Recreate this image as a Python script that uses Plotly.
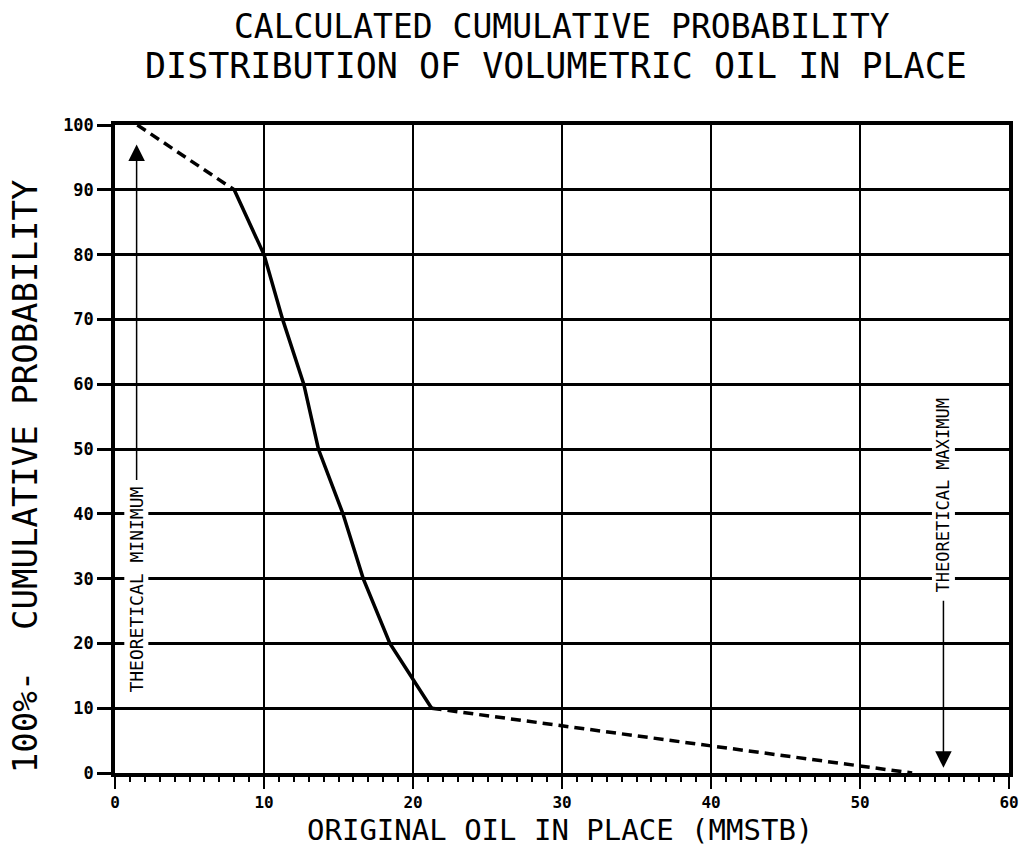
import plotly.graph_objects as go

# ---- data ----
solid_x = [8.0, 10.0, 11.25, 12.67, 13.65, 15.3, 16.66, 18.45, 21.25]
solid_y = [90, 80, 70, 60, 50, 40, 30, 20, 10]
upper_tail_x = [1.5, 8.0]
upper_tail_y = [100, 90]
lower_tail_x = [21.25, 53.5]
lower_tail_y = [10, 0]

theo_min_x = 1.45
theo_min_label_y = 27.5
theo_min_arrow = [45, 97]       # tail y, tip y
theo_max_x = 55.6
theo_max_label_y = 42.9
theo_max_arrow = [26.8, 0.8]    # tail y, tip y

x_ticks = [0, 10, 20, 30, 40, 50, 60]
y_ticks = [0, 10, 20, 30, 40, 50, 60, 70, 80, 90, 100]

title_lines = ["CALCULATED CUMULATIVE PROBABILITY",
               "DISTRIBUTION OF VOLUMETRIC OIL IN PLACE"]
x_title = "ORIGINAL OIL IN PLACE (MMSTB)"
y_title = "100%-  CUMULATIVE PROBABILITY"

FONT = "DejaVu Sans Mono"

fig = go.Figure()
fig.add_trace(go.Scatter(x=upper_tail_x, y=upper_tail_y, mode="lines",
                         line=dict(color="black", width=3.5, dash="10px,6px"),
                         showlegend=False, hoverinfo="skip"))
fig.add_trace(go.Scatter(x=solid_x, y=solid_y, mode="lines",
                         line=dict(color="black", width=3.5),
                         showlegend=False, hoverinfo="skip"))
fig.add_trace(go.Scatter(x=lower_tail_x, y=lower_tail_y, mode="lines",
                         line=dict(color="black", width=3.5, dash="10px,6px"),
                         showlegend=False, hoverinfo="skip"))

annotations = [
    # arrows
    dict(x=theo_min_x, y=theo_min_arrow[1], ax=theo_min_x, ay=theo_min_arrow[0],
         xref="x", yref="y", axref="x", ayref="y", text="", showarrow=True,
         arrowhead=2, arrowsize=2.2, arrowwidth=1.5, arrowcolor="black"),
    dict(x=theo_max_x, y=theo_max_arrow[1], ax=theo_max_x, ay=theo_max_arrow[0],
         xref="x", yref="y", axref="x", ayref="y", text="", showarrow=True,
         arrowhead=2, arrowsize=2.2, arrowwidth=1.5, arrowcolor="black"),
    # arrow labels
    dict(x=theo_min_x, y=theo_min_label_y, xref="x", yref="y",
         text="&nbsp;THEORETICAL MINIMUM", textangle=-90, showarrow=False,
         font=dict(family=FONT, size=18, color="black"), bgcolor="white",
         borderpad=1),
    dict(x=theo_max_x, y=theo_max_label_y, xref="x", yref="y",
         text="THEORETICAL MAXIMUM", textangle=-90, showarrow=False,
         font=dict(family=FONT, size=17, color="black"), bgcolor="white",
         borderpad=1),
    # chart title (two lines)
    dict(x=0.5, y=1, xref="paper", yref="paper", xanchor="center", yanchor="middle",
         yshift=99, text=title_lines[0], showarrow=False,
         font=dict(family=FONT, size=33, color="black")),
    dict(x=0.5, y=1, xref="paper", yref="paper", xanchor="center", yanchor="middle",
         yshift=59, xshift=-6, text=title_lines[1], showarrow=False,
         font=dict(family=FONT, size=35, color="black")),
    # axis titles
    dict(x=0, y=0.458, xref="paper", yref="paper", xanchor="center", yanchor="middle",
         xshift=-90, text=y_title, textangle=-90,
         showarrow=False, font=dict(family=FONT, size=34, color="black")),
    dict(x=0.5, y=0, xref="paper", yref="paper", xanchor="center", yanchor="middle",
         yshift=-57, xshift=-2, text=x_title,
         showarrow=False, font=dict(family=FONT, size=29, color="black")),
]

fig.update_layout(
    width=1031, height=847,
    margin=dict(l=115, r=17, t=125, b=74),
    paper_bgcolor="white", plot_bgcolor="white",
    annotations=annotations,
    showlegend=False,
)
fig.update_xaxes(range=[0, 60], tickvals=x_ticks, ticktext=[str(v) for v in x_ticks],
                 showgrid=True, gridcolor="black", gridwidth=1.5,
                 showline=True, linecolor="black", linewidth=4, mirror=True,
                 ticks="outside", ticklen=12, tickwidth=2, tickcolor="black",
                 minor=dict(dtick=1, ticks="outside", ticklen=5, tickwidth=1.5,
                            tickcolor="black", showgrid=False),
                 tickfont=dict(family=FONT, size=16, color="black", weight="bold"),
                 zeroline=False)
fig.update_yaxes(range=[0, 100], tickvals=y_ticks, ticktext=[str(v) for v in y_ticks],
                 showgrid=True, gridcolor="black", gridwidth=2.5,
                 showline=True, linecolor="black", linewidth=3.5, mirror=True,
                 ticks="outside", ticklen=14, tickwidth=2.5, tickcolor="black",
                 tickfont=dict(family=FONT, size=17, color="black", weight="bold"),
                 zeroline=False)

fig.write_html("out.html",
               config={"displayModeBar": False},
               post_script="document.body.style.margin='0';document.body.style.overflow='hidden';")
